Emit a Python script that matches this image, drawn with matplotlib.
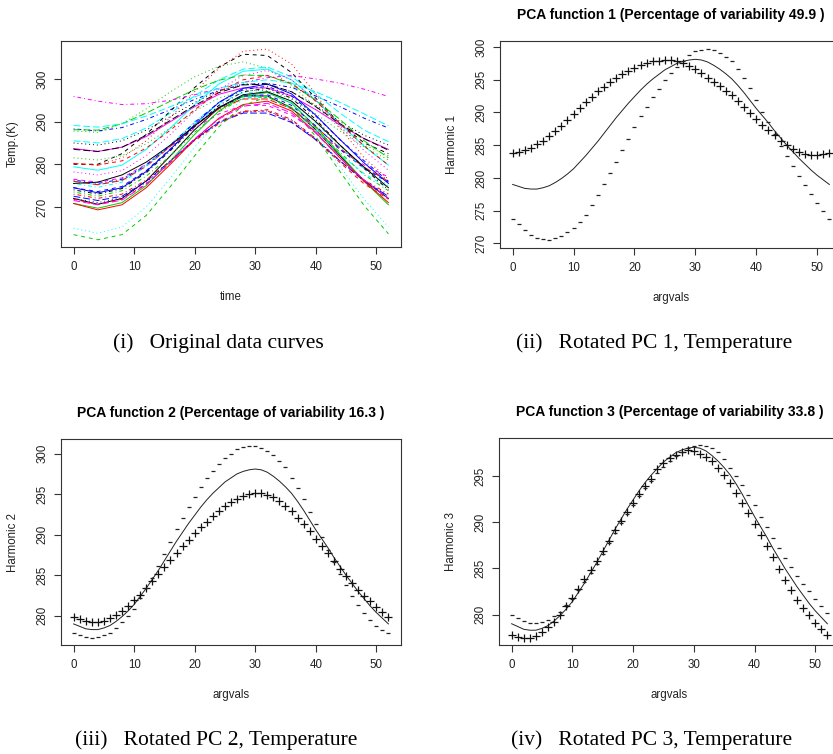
import matplotlib
matplotlib.use('Agg')
import matplotlib.pyplot as plt

plt.rcParams['font.family'] = ['Liberation Sans', 'DejaVu Sans']

# ---- data -------------------------------------------------------------
weeks = list(range(53))
weeks_coarse = list(range(0, 53, 4))

# panel (i): original temperature curves, read every 4 weeks
temp_curves = [
    [272.0, 270.6, 272.0, 276.1, 282.0, 288.1, 293.2, 296.0, 296.0, 293.2, 288.1, 282.0, 276.1, 272.0],
    [271.8, 270.6, 271.8, 275.4, 280.4, 285.7, 290.0, 292.5, 292.5, 290.0, 285.7, 280.4, 275.4, 271.8],
    [287.8, 287.5, 289.5, 293.0, 297.0, 300.5, 303.0, 304.0, 302.5, 298.5, 293.5, 288.5, 284.5, 282.0],
    [288.3, 287.8, 288.6, 290.5, 292.8, 295.2, 297.3, 298.7, 299.0, 298.0, 296.0, 293.5, 290.8, 288.5],
    [285.5, 285.0, 286.0, 288.5, 292.0, 296.0, 299.8, 302.3, 302.8, 300.5, 296.5, 292.0, 288.0, 285.3],
    [283.7, 283.0, 284.0, 286.5, 290.0, 293.5, 296.4, 297.9, 297.9, 296.0, 292.8, 289.2, 286.0, 283.5],
    [280.0, 280.0, 282.5, 287.0, 292.5, 298.0, 302.8, 305.8, 305.5, 301.5, 295.5, 289.5, 285.0, 282.5],
    [280.2, 279.8, 281.5, 285.5, 291.0, 297.0, 302.5, 306.5, 307.0, 303.5, 296.5, 288.5, 281.5, 276.5],
    [273.5, 272.5, 273.8, 277.2, 282.0, 287.5, 292.3, 295.5, 295.8, 293.3, 288.5, 282.8, 277.5, 273.8],
    [272.5, 271.5, 272.5, 276.0, 280.8, 285.8, 289.8, 292.0, 292.0, 289.8, 285.8, 280.8, 276.0, 272.5],
    [279.4, 278.6, 279.8, 283.5, 288.5, 294.0, 298.8, 301.8, 302.3, 299.8, 295.0, 289.5, 284.2, 279.8],
    [276.5, 275.8, 276.8, 280.0, 284.2, 288.5, 291.8, 293.8, 293.8, 291.5, 287.8, 283.5, 279.8, 277.0],
    [285.0, 284.5, 285.5, 288.0, 291.2, 294.5, 297.2, 298.8, 298.8, 297.0, 293.8, 290.0, 286.8, 284.5],
    [273.0, 272.0, 273.0, 276.3, 280.8, 285.5, 289.5, 292.3, 292.8, 290.5, 286.0, 280.8, 276.3, 273.0],
    [288.1, 288.0, 289.5, 292.0, 294.8, 297.5, 299.7, 300.9, 300.8, 298.8, 295.0, 290.5, 285.5, 281.5],
    [274.5, 273.3, 274.5, 278.3, 283.5, 289.3, 294.5, 297.8, 298.8, 296.5, 291.5, 285.8, 280.3, 275.5],
    [276.0, 275.2, 276.3, 279.8, 284.5, 289.5, 293.5, 295.8, 295.8, 293.0, 288.0, 282.3, 277.8, 274.5],
    [278.2, 277.5, 278.5, 282.0, 287.0, 292.5, 297.5, 300.8, 302.0, 299.8, 295.0, 289.0, 283.2, 278.6],
    [274.0, 273.0, 274.3, 278.0, 283.2, 288.8, 293.8, 297.0, 297.8, 295.5, 290.5, 284.5, 279.0, 274.0],
    [276.0, 275.2, 276.2, 279.5, 284.2, 289.0, 293.0, 295.3, 295.3, 293.0, 288.8, 283.8, 279.3, 276.0],
    [270.8, 269.7, 271.0, 275.0, 280.8, 287.0, 292.5, 296.0, 296.8, 294.3, 288.8, 282.3, 276.0, 270.5],
    [274.5, 273.6, 274.8, 278.5, 283.6, 289.0, 293.3, 296.0, 296.3, 293.8, 289.0, 283.5, 279.0, 275.8],
    [265.0, 263.8, 265.3, 270.0, 276.8, 284.0, 290.5, 295.3, 297.0, 294.3, 287.5, 279.5, 271.8, 265.3],
    [295.9, 294.8, 294.0, 294.2, 295.0, 296.3, 297.8, 299.2, 300.3, 300.8, 300.0, 299.0, 297.6, 295.9],
    [283.5, 283.0, 284.0, 286.8, 290.3, 293.8, 296.8, 298.6, 298.8, 297.0, 293.5, 289.5, 286.0, 283.3],
    [270.8, 269.3, 270.5, 274.5, 280.0, 285.8, 290.8, 294.0, 294.8, 292.5, 287.5, 281.5, 276.0, 271.0],
    [263.5, 262.3, 263.5, 268.0, 274.8, 282.0, 288.8, 293.8, 295.8, 293.3, 286.5, 278.3, 270.3, 263.7],
    [272.0, 271.0, 272.2, 275.8, 280.8, 285.8, 289.8, 292.2, 292.5, 290.3, 286.0, 280.8, 276.3, 272.5],
    [275.5, 274.6, 275.8, 279.5, 284.5, 290.0, 294.3, 296.8, 297.0, 294.5, 289.8, 284.0, 279.0, 275.0],
    [271.5, 270.5, 271.6, 275.3, 280.5, 286.0, 290.6, 293.6, 294.3, 292.0, 287.3, 281.5, 276.3, 272.0],
    [275.5, 275.8, 277.5, 280.5, 284.5, 289.0, 293.3, 296.3, 297.0, 294.8, 290.0, 284.5, 279.3, 274.5],
    [280.2, 279.8, 280.8, 283.8, 288.0, 292.8, 297.0, 299.8, 300.8, 299.0, 294.8, 289.5, 284.3, 279.8],
    [281.5, 281.0, 282.0, 284.8, 288.5, 292.5, 295.5, 297.3, 297.3, 295.3, 291.8, 287.8, 284.0, 281.0],
    [276.3, 275.5, 276.5, 279.8, 284.5, 289.8, 294.5, 297.5, 298.3, 296.0, 291.3, 285.8, 280.8, 276.0],
    [289.1, 288.7, 289.5, 291.3, 293.5, 295.8, 297.8, 299.2, 299.8, 299.0, 297.0, 294.5, 291.8, 289.0],
]

# mean temperature function (shared by the three PCA panels)
mean_curve = [279.0, 278.7, 278.4, 278.3, 278.3, 278.5, 278.8, 279.3, 279.9, 280.6,
              281.4, 282.4, 283.4, 284.5, 285.6, 286.8, 288.0, 289.2, 290.3, 291.4,
              292.4, 293.4, 294.3, 295.1, 295.8, 296.5, 297.0, 297.5, 297.8, 298.0,
              298.1, 298.0, 297.7, 297.2, 296.6, 295.9, 295.1, 294.1, 293.0, 291.8,
              290.6, 289.5, 288.4, 287.2, 286.1, 285.0, 284.0, 283.0, 282.1, 281.2,
              280.4, 279.7, 279.0]

pc1_plus = [283.8, 284.0, 284.3, 284.6, 285.1, 285.7, 286.4, 287.1, 288.0, 288.9,
            289.8, 290.7, 291.6, 292.4, 293.2, 293.9, 294.6, 295.2, 295.8, 296.3,
            296.8, 297.2, 297.5, 297.8, 297.9, 298.0, 298.0, 297.8, 297.5, 297.1,
            296.6, 296.0, 295.3, 294.6, 294.0, 293.3, 292.6, 291.7, 290.8, 289.9,
            289.0, 288.1, 287.3, 286.5, 285.7, 285.0, 284.4, 284.0, 283.7, 283.5,
            283.5, 283.6, 283.8]
pc1_minus = [273.8, 272.9, 272.0, 271.3, 270.8, 270.6, 270.5, 270.8, 271.2, 271.7,
             272.3, 273.2, 274.4, 275.9, 277.4, 279.0, 280.7, 282.4, 284.2, 286.0,
             287.8, 289.4, 290.9, 292.3, 293.6, 295.0, 296.0, 297.0, 297.9, 298.7,
             299.3, 299.6, 299.7, 299.5, 299.0, 298.5, 297.8, 296.7, 295.3, 293.7,
             291.9, 290.1, 288.5, 286.7, 284.9, 283.3, 281.8, 280.3, 278.9, 277.5,
             276.2, 275.0, 273.8]

pc2_plus = [279.9, 279.6, 279.3, 279.2, 279.2, 279.4, 279.7, 280.1, 280.6, 281.2,
            281.9, 282.6, 283.4, 284.3, 285.1, 286.0, 286.9, 287.7, 288.6, 289.4,
            290.2, 290.9, 291.6, 292.3, 292.9, 293.5, 294.0, 294.4, 294.8, 295.0,
            295.1, 295.1, 294.9, 294.6, 294.1, 293.5, 292.9, 292.1, 291.3, 290.4,
            289.5, 288.6, 287.7, 286.8, 285.8, 284.9, 284.0, 283.2, 282.5, 281.8,
            281.1, 280.5, 279.9]
pc2_minus = [277.9, 277.6, 277.4, 277.3, 277.4, 277.6, 277.9, 278.5, 279.2, 280.0,
             280.9, 282.2, 283.4, 284.7, 286.1, 287.6, 289.1, 290.7, 292.0, 293.4,
             294.6, 295.9, 297.0, 297.9, 298.7, 299.5, 300.0, 300.6, 300.8, 300.9,
             300.9, 300.7, 300.3, 299.8, 299.1, 298.3, 297.0, 295.8, 294.4, 292.8,
             291.3, 289.7, 288.1, 286.6, 285.2, 283.8, 282.5, 281.3, 280.3, 279.5,
             278.8, 278.3, 277.9]

pc3_plus = [277.8, 277.6, 277.5, 277.5, 277.7, 278.1, 278.6, 279.2, 280.0, 280.9,
            281.8, 282.8, 283.8, 284.8, 285.8, 286.9, 288.0, 289.1, 290.1, 291.1,
            292.1, 293.0, 293.9, 294.7, 295.7, 296.4, 296.9, 297.3, 297.6, 297.8,
            297.7, 297.4, 297.0, 296.6, 295.9, 295.1, 294.2, 293.2, 292.1, 291.0,
            289.8, 288.6, 287.4, 286.2, 284.9, 283.7, 282.6, 281.6, 280.7, 279.9,
            279.1, 278.4, 277.8]
pc3_minus = [280.0, 279.6, 279.3, 279.1, 279.1, 279.2, 279.4, 279.8, 280.3, 281.0,
             281.7, 282.6, 283.5, 284.5, 285.5, 286.6, 287.7, 288.8, 289.9, 290.9,
             291.9, 292.8, 293.7, 294.5, 295.3, 296.0, 296.6, 297.2, 297.6, 298.0,
             298.2, 298.3, 298.2, 298.0, 297.6, 296.8, 295.9, 295.0, 294.0, 292.9,
             291.8, 290.6, 289.5, 288.3, 287.2, 286.1, 285.1, 284.2, 283.3, 282.5,
             281.7, 280.9, 280.2]

pc_titles = ['PCA function 1 (Percentage of variability 49.9 )',
             'PCA function 2 (Percentage of variability 16.3 )',
             'PCA function 3 (Percentage of variability 33.8 )']
pc_ylabels = ['Harmonic 1', 'Harmonic 2', 'Harmonic 3']
captions = ['(i)   Original data curves',
            '(ii)   Rotated PC 1, Temperature',
            '(iii)   Rotated PC 2, Temperature',
            '(iv)   Rotated PC 3, Temperature']

# R default palette / line types used by matplot
r_cols = ['#000000', '#FF0000', '#00CD00', '#0000FF', '#00FFFF', '#FF00FF']
r_ltys = ['-', (0, (4, 4)), (0, (1, 3)), (0, (1, 3, 4, 3)), (0, (7, 3))]

W, H = 833, 754
fig = plt.figure(figsize=(W / 100, H / 100), dpi=100)


def px_axes(left, top, width, height):
    return fig.add_axes([left / W, 1 - (top + height) / H, width / W, height / H])


def style_axes(ax, xlabel, ylabel, yticks, h):
    ax.set_xlim(-2.08, 54.08)
    ax.set_xticks([0, 10, 20, 30, 40, 50])
    ax.set_yticks(yticks)
    for s in ax.spines.values():
        s.set_linewidth(0.8)
        s.set_color('#333333')
    ax.tick_params(direction='out', length=5, width=0.8, colors='#333333',
                   labelcolor='#222222', labelsize=8.3, pad=5)
    ax.tick_params(axis='y', pad=4)
    plt.setp(ax.get_yticklabels(), rotation=90, va='center')
    ax.set_xlabel(xlabel, fontsize=8.3, color='#222222', va='center')
    ax.set_ylabel(ylabel, fontsize=8.3, color='#222222', va='center')
    ax.xaxis.set_label_coords(0.5, -50 / h)
    ax.yaxis.set_label_coords(-48 / 340, 0.5)


# (i) original data
ax1 = px_axes(61, 41, 340, 206)
for k, curve in enumerate(temp_curves):
    ax1.plot(weeks_coarse, curve, color=r_cols[k % 6], linestyle=r_ltys[k % 5], lw=0.7)
ax1.set_ylim(260.6, 308.9)
style_axes(ax1, 'time', 'Temp.(K)', [270, 280, 290, 300], 206)

# (ii)-(iv) rotated PCs
pc_sets = [(pc1_plus, pc1_minus, (269.3, 300.9), [270, 275, 280, 285, 290, 295, 300], (500, 41, 342, 207)),
           (pc2_plus, pc2_minus, (276.4, 301.8), [280, 285, 290, 295, 300], (61, 439, 340, 206)),
           (pc3_plus, pc3_minus, (276.7, 299.1), [280, 285, 290, 295], (499, 438, 341, 207))]

for i, (plus, minus, ylim, yt, box) in enumerate(pc_sets):
    ax = px_axes(*box)
    ax.plot(weeks, mean_curve, color='#222222', lw=0.7)
    ax.plot(weeks, plus, ls='none', marker='+', ms=5.5, mew=0.9, color='#111111')
    ax.plot(weeks, minus, ls='none', marker='_', ms=3, mew=0.9, color='#222222')
    ax.set_ylim(*ylim)
    style_axes(ax, 'argvals', pc_ylabels[i], yt, box[3])
    ax.text(0.5, 1 + 26 / box[3], pc_titles[i], transform=ax.transAxes,
            ha='center', va='center', fontsize=10, fontweight='bold')

# sub-figure captions
cap_pos = [(218, 343), (654, 343), (216, 740), (652, 740)]
for (cx, cy), cap in zip(cap_pos, captions):
    fig.text(cx / W, 1 - cy / H, cap, ha='center', va='center',
             fontsize=15.5, family=['Liberation Serif', 'DejaVu Serif'])

fig.savefig('out.png', dpi=100)
